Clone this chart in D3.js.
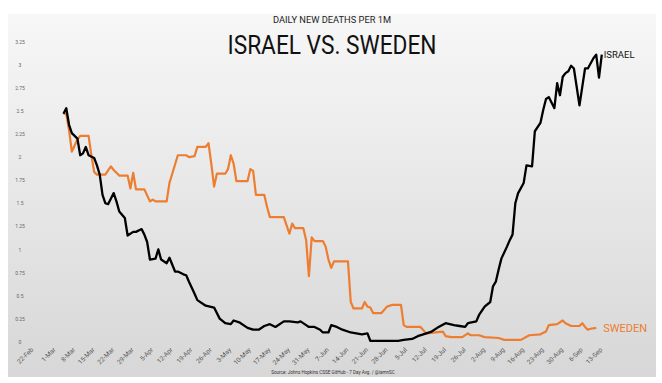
<!DOCTYPE html>
<html>
<head>
<meta charset="utf-8">
<script src="https://cdn.jsdelivr.net/npm/d3@7"></script>
<style>
  html, body { margin: 0; padding: 0; background: #ffffff; }
  svg { display: block; }
</style>
</head>
<body>
<svg id="chart" width="662" height="383"></svg>
<script>
// ---- DATA (2020) ----
const subtitle = "DAILY NEW DEATHS PER 1M";
const title = "ISRAEL VS. SWEDEN";
const source = "Source: Johns Hopkins CSSE GitHub - 7 Day Avg. / @iamnSC";
const yTicks = [0, 0.25, 0.5, 0.75, 1, 1.25, 1.5, 1.75, 2, 2.25, 2.5, 2.75, 3, 3.25];
const xTickLabels = ["22-Feb","1-Mar","8-Mar","15-Mar","22-Mar","29-Mar","5-Apr","12-Apr","19-Apr","26-Apr",
  "3-May","10-May","17-May","24-May","31-May","7-Jun","14-Jun","21-Jun","28-Jun","5-Jul","12-Jul",
  "19-Jul","26-Jul","2-Aug","9-Aug","16-Aug","23-Aug","30-Aug","6-Sep","13-Sep"];

const israelDates = ["3/5","3/6","3/7","3/8","3/10","3/11","3/12","3/13","3/14","3/16","3/17","3/18","3/19","3/20","3/21",
  "3/23","3/24","3/25","3/27","3/28","3/30","3/31","4/2","4/3","4/4","4/5","4/7","4/8","4/9","4/11","4/12","4/14","4/15",
  "4/17","4/18","4/19","4/21","4/22","4/25","4/28","4/30","5/2","5/4","5/5","5/7","5/10","5/12","5/14","5/16","5/18","5/20",
  "5/23","5/25","5/28","5/29","5/31","6/1","6/3","6/5","6/6","6/8","6/9","6/11","6/13","6/16","6/20","6/22","6/23","6/26",
  "6/30","7/3","7/5","7/8","7/10","7/12","7/15","7/17","7/20","7/23","7/25","7/27","7/28","7/31","8/1","8/3","8/5","8/6",
  "8/7","8/8","8/9","8/11","8/12","8/13","8/14","8/15","8/17","8/18","8/20","8/21","8/23","8/24","8/25","8/26","8/28","8/29",
  "8/30","8/31","9/1","9/2","9/3","9/4","9/6","9/7","9/8","9/9","9/11","9/12","9/13","9/14"];
const israelValues = [2.47,2.53,2.35,2.26,2.20,2.02,2.04,2.11,2.02,1.99,1.91,1.81,1.59,1.50,1.49,
  1.61,1.52,1.41,1.34,1.15,1.19,1.19,1.22,1.16,1.08,0.89,0.90,1.00,0.89,0.85,0.91,0.76,0.76,
  0.73,0.72,0.65,0.52,0.45,0.39,0.37,0.25,0.20,0.19,0.23,0.21,0.15,0.13,0.13,0.17,0.19,0.16,
  0.22,0.22,0.21,0.22,0.18,0.16,0.16,0.13,0.10,0.10,0.18,0.16,0.13,0.10,0.08,0.09,0.01,0.01,
  0.01,0.01,0.02,0.03,0.06,0.08,0.11,0.15,0.20,0.18,0.17,0.16,0.20,0.22,0.29,0.38,0.43,0.60,
  0.65,0.78,0.90,1.03,1.10,1.16,1.50,1.61,1.72,1.91,1.90,2.28,2.37,2.51,2.63,2.65,2.53,2.80,
  2.67,2.87,2.91,2.93,2.99,2.96,2.56,2.76,2.96,2.96,3.07,3.11,2.86,3.11];

const swedenDates = ["3/5","3/6","3/7","3/8","3/10","3/11","3/14","3/15","3/16","3/17","3/20","3/22","3/23","3/25","3/28",
  "3/29","3/30","3/31","4/3","4/5","4/6","4/7","4/11","4/12","4/13","4/15","4/18","4/19","4/21","4/22","4/25","4/26","4/27",
  "4/28","4/29","5/2","5/3","5/4","5/5","5/6","5/10","5/11","5/12","5/13","5/16","5/17","5/18","5/23","5/24","5/25","5/26",
  "5/27","5/30","5/31","6/1","6/2","6/3","6/6","6/7","6/8","6/9","6/10","6/15","6/16","6/17","6/20","6/21","6/22","6/23",
  "6/24","6/27","6/29","7/1","7/4","7/5","7/6","7/11","7/13","7/19","7/20","7/22","7/26","7/28","7/29","8/1","8/3","8/8",
  "8/10","8/16","8/19","8/23","8/25","8/26","8/29","8/31","9/1","9/3","9/6","9/7","9/8","9/9","9/10","9/12"];
const swedenValues = [2.47,2.47,2.29,2.06,2.19,2.23,2.23,2.02,1.84,1.81,1.81,1.90,1.86,1.80,1.80,
  1.66,1.83,1.65,1.65,1.52,1.54,1.52,1.52,1.72,1.82,2.02,2.02,2.00,2.01,2.11,2.11,2.15,1.93,
  1.68,1.82,1.82,1.87,2.02,1.93,1.74,1.74,1.87,1.85,1.59,1.59,1.46,1.35,1.35,1.26,1.17,1.28,
  1.23,1.23,1.10,0.71,1.13,1.09,1.09,1.03,0.89,0.80,0.87,0.87,0.43,0.36,0.36,0.43,0.38,0.37,
  0.31,0.31,0.38,0.40,0.40,0.18,0.16,0.16,0.09,0.11,0.06,0.05,0.05,0.09,0.07,0.07,0.05,0.04,
  0.02,0.02,0.07,0.08,0.11,0.18,0.19,0.23,0.20,0.17,0.17,0.20,0.16,0.13,0.14,0.15];

// ---- DRAWING ----
const svg = d3.select("#chart");
const parseMD = s => d3.timeParse("%m/%d/%Y")(s + "/2020");
const parseLabel = d3.timeParse("%d-%b-%Y");

// background panel with vertical gradient
const defs = svg.append("defs");
const grad = defs.append("linearGradient").attr("id", "bg").attr("x1", 0).attr("y1", 0).attr("x2", 0).attr("y2", 1);
grad.append("stop").attr("offset", "0%").attr("stop-color", "#f7f7f7");
grad.append("stop").attr("offset", "100%").attr("stop-color", "#d7d7d7");
svg.append("rect").attr("x", 8).attr("y", 14).attr("width", 648).attr("height", 363).attr("fill", "url(#bg)");

const x = d3.scaleTime()
  .domain([parseLabel("22-Feb-2020"), parseLabel("13-Sep-2020")])
  .range([30, 599]);
const y = d3.scaleLinear().domain([0, 3.25]).range([341.7, 41.7]);

// Y axis
const yAxis = d3.axisLeft(y).tickValues(yTicks).tickSize(0).tickPadding(0)
  .tickFormat(d => d3.format("~g")(d));
const gy = svg.append("g").attr("transform", "translate(20,0)").call(yAxis);
gy.select(".domain").remove();
gy.selectAll("text").attr("text-anchor", "middle").attr("dx", 0)
  .attr("font-family", "Roboto, 'DejaVu Sans', sans-serif").attr("font-size", 5).attr("fill", "#666");

// X axis
const xTickDates = xTickLabels.map(s => parseLabel(s + "-2020"));
const xAxis = d3.axisBottom(x).tickValues(xTickDates).tickSize(0).tickPadding(0)
  .tickFormat((d, i) => xTickLabels[i]);
const gx = svg.append("g").attr("transform", "translate(0,347)").call(xAxis);
gx.select(".domain").remove();
gx.selectAll("text")
  .attr("y", 0).attr("dy", "0.7em")
  .attr("text-anchor", "end")
  .attr("transform", "rotate(-45)")
  .attr("font-family", "Roboto, 'DejaVu Sans', sans-serif").attr("font-size", 6.5).attr("fill", "#5a5a5a");

// lines
const line = d3.line().x(d => x(d.date)).y(d => y(d.value));
const israel = israelDates.map((d, i) => ({ date: parseMD(d), value: israelValues[i] }));
const sweden = swedenDates.map((d, i) => ({ date: parseMD(d), value: swedenValues[i] }));

svg.append("path").datum(sweden).attr("d", line)
  .attr("fill", "none").attr("stroke", "#ED7D31").attr("stroke-width", 2.2).attr("stroke-linejoin", "round");
svg.append("path").datum(israel).attr("d", line)
  .attr("fill", "none").attr("stroke", "#000").attr("stroke-width", 2.3).attr("stroke-linejoin", "round");

// series labels
const lastI = israel[israel.length - 1], lastS = sweden[sweden.length - 1];
svg.append("text").attr("x", x(lastI.date) + 2).attr("y", y(lastI.value)).attr("dy", "0.35em")
  .attr("font-family", "Roboto, sans-serif").attr("font-size", 9.5).attr("fill", "#111").text("ISRAEL");
svg.append("text").attr("x", x(lastS.date) + 7).attr("y", y(lastS.value)).attr("dy", "0.35em")
  .attr("font-family", "Roboto, sans-serif").attr("font-size", 11).attr("fill", "#ED7D31").text("SWEDEN");

// titles
svg.append("text").attr("x", 332).attr("y", 23).attr("text-anchor", "middle")
  .attr("font-family", "Roboto, sans-serif").attr("font-size", 8.5).attr("fill", "#222")
  .attr("textLength", 118).attr("lengthAdjust", "spacingAndGlyphs").text(subtitle);
svg.append("text").attr("x", 332).attr("y", 54).attr("text-anchor", "middle")
  .attr("font-family", "Roboto, sans-serif").attr("font-size", 25).attr("fill", "#111")
  .attr("textLength", 209).attr("lengthAdjust", "spacingAndGlyphs").text(title);

// source
svg.append("text").attr("x", 333).attr("y", 374).attr("text-anchor", "middle")
  .attr("font-family", "Roboto, sans-serif").attr("font-size", 4.6).attr("fill", "#333").text(source);
</script>
</body>
</html>
